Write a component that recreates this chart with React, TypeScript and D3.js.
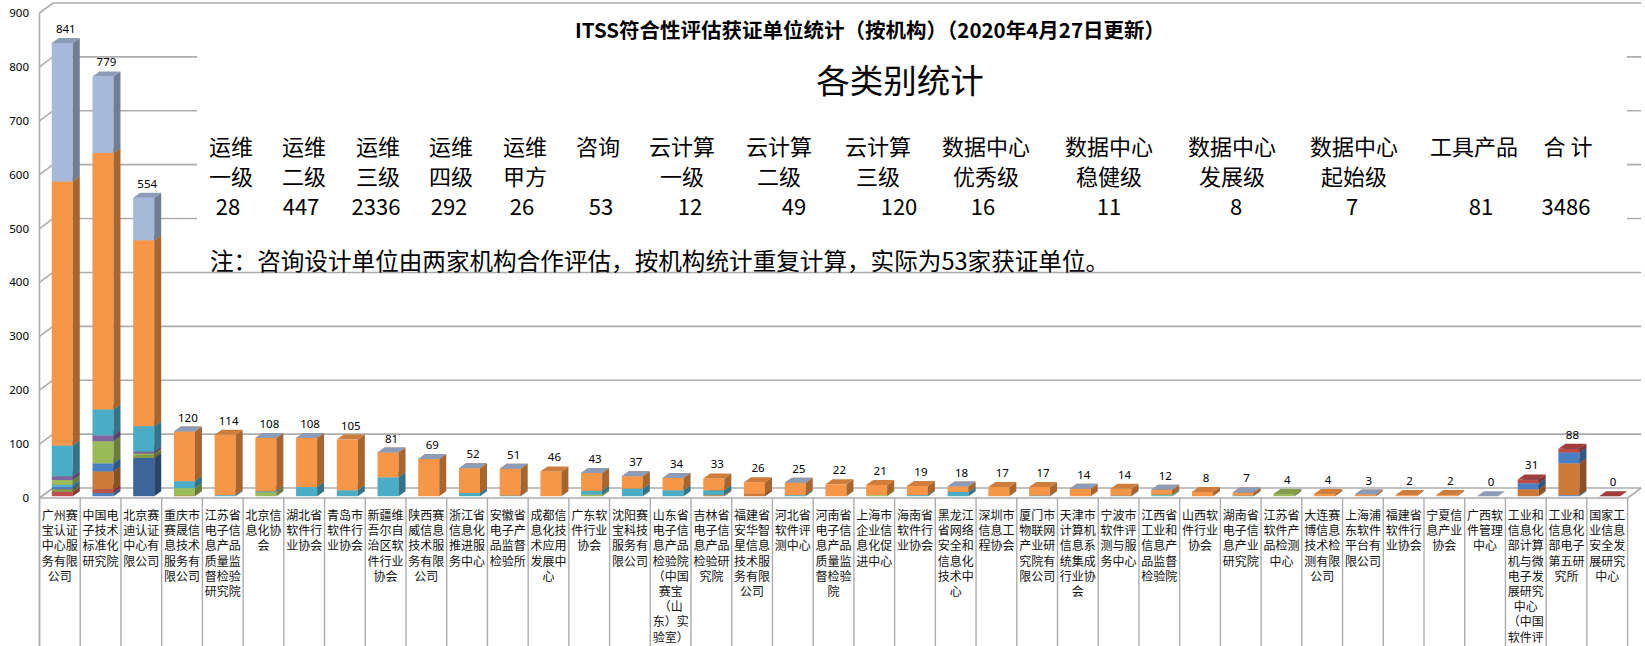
import React, { useEffect } from 'react';
import * as d3 from 'd3';

// ---- data ----
const categories = [
  '广州赛\n宝认证\n中心服\n务有限\n公司',
  '中国电\n子技术\n标准化\n研究院',
  '北京赛\n迪认证\n中心有\n限公司',
  '重庆市\n赛晟信\n息技术\n服务有\n限公司',
  '江苏省\n电子信\n息产品\n质量监\n督检验\n研究院',
  '北京信\n息化协\n会',
  '湖北省\n软件行\n业协会',
  '青岛市\n软件行\n业协会',
  '新疆维\n吾尔自\n治区软\n件行业\n协会',
  '陕西赛\n威信息\n技术服\n务有限\n公司',
  '浙江省\n信息化\n推进服\n务中心',
  '安徽省\n电子产\n品监督\n检验所',
  '成都信\n息化技\n术应用\n发展中\n心',
  '广东软\n件行业\n协会',
  '沈阳赛\n宝科技\n服务有\n限公司',
  '山东省\n电子信\n息产品\n检验院\n（中国\n赛宝\n（山\n东）实\n验室）',
  '吉林省\n电子信\n息产品\n检验研\n究院',
  '福建省\n安华智\n星信息\n技术服\n务有限\n公司',
  '河北省\n软件评\n测中心',
  '河南省\n电子信\n息产品\n质量监\n督检验\n院',
  '上海市\n企业信\n息化促\n进中心',
  '海南省\n软件行\n业协会',
  '黑龙江\n省网络\n安全和\n信息化\n技术中\n心',
  '深圳市\n信息工\n程协会',
  '厦门市\n物联网\n产业研\n究院有\n限公司',
  '天津市\n计算机\n信息系\n统集成\n行业协\n会',
  '宁波市\n软件评\n测与服\n务中心',
  '江西省\n工业和\n信息产\n品监督\n检验院',
  '山西软\n件行业\n协会',
  '湖南省\n电子信\n息产业\n研究院',
  '江苏省\n软件产\n品检测\n中心',
  '大连赛\n博信息\n技术检\n测有限\n公司',
  '上海浦\n东软件\n平台有\n限公司',
  '福建省\n软件行\n业协会',
  '宁夏信\n息产业\n协会',
  '广西软\n件管理\n中心',
  '工业和\n信息化\n部计算\n机与微\n电子发\n展研究\n中心\n（中国\n软件评\n测中心）',
  '工业和\n信息化\n部电子\n第五研\n究所',
  '国家工\n业信息\n安全发\n展研究\n中心',
];

const _ = null; // blank cell (no box drawn)

// stacked series, bottom to top
const sBlue = [_, 6, _, _, _, _, _, _, _, _, _, _, _, _, _, _, _, _, _, _, _, _, _, _, _, _, _, _, _, _, _, _, _, _, _, _, _, 2, _];
const sRed = [8, 7, _, _, _, _, _, _, _, _, _, _, _, _, _, _, _, _, _, _, _, _, _, _, _, _, _, _, _, _, _, _, _, _, _, _, _, _, _];
const sDarkBlue = [_, _, 71, _, _, _, _, _, _, _, _, _, _, _, _, _, _, _, _, _, _, _, _, _, _, _, _, _, _, _, _, _, _, _, _, _, _, _, _];
const sOlive = [5, _, 5, _, _, _, _, _, _, _, _, _, _, _, _, _, _, _, _, _, _, _, _, _, _, _, _, _, _, _, _, _, _, _, _, _, _, _, _];
const sDarkOrange = [_, 33, _, 1, _, _, _, _, _, _, _, _, _, _, _, _, 2, 5, _, _, _, _, _, _, _, _, _, _, _, _, _, _, _, _, _, _, 13, 59, _];
const sBlue2 = [4, 15, _, _, _, _, _, _, _, _, _, _, _, _, _, _, _, _, _, _, _, _, _, _, _, _, _, _, _, _, _, _, _, _, _, _, 11, 20, _];
const sRed2 = [_, _, _, _, _, _, _, _, _, _, _, _, _, _, _, _, _, _, _, _, _, _, _, _, _, _, _, _, _, _, _, _, _, _, _, _, 7, 7, 0];
const sAquaThin = [4, _, _, _, _, _, _, _, _, _, _, _, _, _, _, _, _, _, _, _, _, _, _, _, _, _, _, 2, _, _, _, _, _, _, _, _, _, _, _];
const sGreen = [9, 41, 3, 14, _, 7, _, _, _, _, _, _, _, 3, _, _, _, _, _, _, 2, _, _, _, _, _, _, 1, _, _, 4, _, _, _, _, _, _, _, _];
const sPurple = [7, 11, 4, _, _, _, _, _, _, _, _, _, _, _, _, _, _, _, _, _, _, _, _, _, _, _, _, _, _, _, _, _, _, _, _, _, _, _, _];
const sAqua = [57, 48, 47, 13, 2, 2, 17, 11, 35, _, 6, 1, _, 7, 14, 11, 9, _, 2, _, _, 2, 8, _, 1, _, 1, _, _, 1, _, _, _, _, _, _, _, _, _];
const sOrange = [490, 476, 345, 92, 112, 99, 91, 94, 46, 69, 46, 50, 46, 33, 23, 23, 22, 21, 23, 22, 19, 17, 10, 17, 16, 14, 13, 9, 8, 6, _, 4, 3, 2, 2, _, _, _, _];
const sLightBlue = [257, 142, 79, 0, _, 0, 0, _, 0, 0, 0, 0, _, 0, 0, 0, _, _, 0, _, _, _, 0, _, _, 0, _, 0, _, 0, _, _, 0, _, _, 0, _, _, _];

const series = [
  { key: 'blue', color: '#4F81BD', values: sBlue },
  { key: 'red', color: '#C0504D', values: sRed },
  { key: 'darkBlue', color: '#3C6699', values: sDarkBlue },
  { key: 'olive', color: '#8B9C45', values: sOlive },
  { key: 'darkOrange', color: '#CC7A36', values: sDarkOrange },
  { key: 'blue2', color: '#4A7EC2', values: sBlue2 },
  { key: 'red2', color: '#BE4A45', values: sRed2 },
  { key: 'aquaThin', color: '#58B1CA', values: sAquaThin },
  { key: 'green', color: '#9BBB59', values: sGreen },
  { key: 'purple', color: '#8064A2', values: sPurple },
  { key: 'aqua', color: '#4BACC6', values: sAqua },
  { key: 'orange', color: '#F79646', values: sOrange },
  { key: 'lightBlue', color: '#A7B9DA', values: sLightBlue },
];

const yTicks = [0, 100, 200, 300, 400, 500, 600, 700, 800, 900];

const title = 'ITSS符合性评估获证单位统计（按机构）（2020年4月27日更新）';
const subtitle = '各类别统计';
const summaryHead1 = ['运维', '运维', '运维', '运维', '运维', '咨询', '云计算', '云计算', '云计算', '数据中心', '数据中心', '数据中心', '数据中心', '工具产品', '合 计'];
const summaryHead2 = ['一级', '二级', '三级', '四级', '甲方', '', '一级', '二级', '三级', '优秀级', '稳健级', '发展级', '起始级', '', ''];
const summaryValues = ['28', '447', '2336', '292', '26', '53', '12', '49', '120', '16', '11', '8', '7', '81', '3486'];
const note = '注：咨询设计单位由两家机构合作评估，按机构统计重复计算，实际为53家获证单位。';

// ---- layout ----
const W = 1645;
const H = 646;
const X0 = 39.5;
const X1 = 1627.6;
const WALL_X = 13.5;
const WALL_Y = -10;
const FRONT_X = 2.4;
const FRONT_Y = -1.8;
const DEPTH_X = 7;
const DEPTH_Y = -5;
const GRID = '#ADADAD';
const CJK = '"Noto Sans CJK SC", "Noto Sans", sans-serif';
const NUM = '"Noto Sans", "Liberation Sans", sans-serif';

const headX = [231, 304, 378, 451, 525, 598, 682, 779, 878, 986, 1109, 1232, 1354, 1474, 1568];
const valX = [228, 301, 376, 449, 522, 601, 690, 794, 899, 983, 1109, 1236, 1352, 1481, 1566];

const poly = (pts: [number, number][]) => pts.map(p => p.join(',')).join(' ');

const App = () => {
  useEffect(() => {
    document.body.style.margin = '0';
  }, []);

  const x = d3.scaleBand<number>()
    .domain(categories.map((c, i) => i))
    .range([X0, X1])
    .paddingInner(0.484)
    .paddingOuter(0.242);
  const step = x.step();
  const bw = x.bandwidth();

  const y = d3.scaleLinear().domain([0, 900]).range([498, 13]);

  const stack = d3.stack<number>()
    .keys(series.map(s => s.key))
    .value((i, key) => series.find(s => s.key === key)!.values[i] ?? 0);
  const stacked = stack(categories.map((c, i) => i));

  const boxes: JSX.Element[] = [];
  const labels: JSX.Element[] = [];
  categories.forEach((c, i) => {
    const left = x(i)! + FRONT_X;
    const right = left + bw;
    let topBack = y(0) + FRONT_Y + DEPTH_Y;
    stacked.forEach((layer, si) => {
      const v = series[si].values[i];
      if (v === null || v === undefined) return;
      const [v0, v1] = layer[i];
      const yb = y(v0) + FRONT_Y;
      const yt = y(v1) + FRONT_Y;
      const col = d3.color(series[si].color)!;
      const side = col.darker(1.1).formatHex();
      const top = col.darker(0.5).formatHex();
      boxes.push(
        <g key={`${i}-${si}`}>
          {yb - yt > 0 && <rect x={left} y={yt} width={bw} height={yb - yt} fill={series[si].color} />}
          {yb - yt > 0 && (
            <polygon
              points={poly([[right, yt], [right + DEPTH_X, yt + DEPTH_Y], [right + DEPTH_X, yb + DEPTH_Y], [right, yb]])}
              fill={side}
            />
          )}
          <polygon
            points={poly([[left, yt], [left + DEPTH_X, yt + DEPTH_Y], [right + DEPTH_X, yt + DEPTH_Y], [right, yt]])}
            fill={top}
          />
        </g>
      );
      topBack = yt + DEPTH_Y;
    });
    const total = d3.sum(series, s => s.values[i] ?? 0);
    labels.push(
      <text key={`l${i}`} x={left + bw / 2 + DEPTH_X / 2} y={topBack - 5} textAnchor="middle"
        fontFamily={NUM} fontSize={11.5} fill="#000">{total}</text>
    );
  });

  return (
    <svg width={W} height={H} style={{ display: 'block' }} xmlns="http://www.w3.org/2000/svg">
      <rect width={W} height={H} fill="#fff" />

      {/* back wall gridlines and side wall */}
      {yTicks.map(t => (
        <g key={`g${t}`} stroke={GRID} strokeWidth={1.6}>
          <line x1={X0 + WALL_X} x2={X1 + WALL_X} y1={y(t) + WALL_Y} y2={y(t) + WALL_Y} />
          <line x1={X0} x2={X0 + WALL_X} y1={y(t)} y2={y(t) + WALL_Y} />
        </g>
      ))}
      <line x1={X0} x2={X0} y1={y(900)} y2={H} stroke={GRID} strokeWidth={1.6} />
      <line x1={X0} x2={X1} y1={y(0)} y2={y(0)} stroke={GRID} strokeWidth={1.6} />
      <line x1={X1} x2={X1 + WALL_X} y1={y(0)} y2={y(0) + WALL_Y} stroke={GRID} strokeWidth={1.6} />

      {/* category cells */}
      {d3.range(categories.length + 1).map(k => (
        <line key={`s${k}`} x1={X0 + k * step} x2={X0 + k * step} y1={y(0)} y2={H} stroke={GRID} strokeWidth={1.4} />
      ))}

      {/* text box over the chart */}
      <rect x={197} y={5} width={1430} height={263} fill="#fff" />
      <text x={870} y={38} textAnchor="middle" fontFamily={CJK} fontWeight="bold" fontSize={20.5} fill="#000">{title}</text>
      <text x={900} y={93} textAnchor="middle" fontFamily={CJK} fontSize={33.5} fill="#000">{subtitle}</text>
      {summaryHead1.map((h, k) => (
        <text key={`h1${k}`} x={headX[k]} y={155} textAnchor="middle" fontFamily={CJK} fontSize={22} fill="#000">{h}</text>
      ))}
      {summaryHead2.map((h, k) => (
        <text key={`h2${k}`} x={headX[k]} y={185} textAnchor="middle" fontFamily={CJK} fontSize={22} fill="#000">{h}</text>
      ))}
      {summaryValues.map((v, k) => (
        <text key={`v${k}`} x={valX[k]} y={215} textAnchor="middle" fontFamily={CJK} fontSize={22} fill="#000">{v}</text>
      ))}
      <text x={210} y={270} fontFamily={CJK} fontSize={23.6} fill="#000">{note}</text>

      {/* bars */}
      {boxes}
      {labels}

      {/* category labels */}
      {categories.map((c, i) => (
        <text key={`c${i}`} x={X0 + (i + 0.5) * step} y={520} textAnchor="middle" fontFamily={CJK} fontSize={12} fill="#111">
          {c.split('\n').map((line, j) => (
            <tspan key={j} x={X0 + (i + 0.5) * step} dy={j === 0 ? 0 : 15.2}>{line}</tspan>
          ))}
        </text>
      ))}

      {/* y axis labels */}
      <g fontFamily={NUM} fontSize={11.5} fill="#000" textAnchor="end">
        {yTicks.map(t => (
          <text key={`t${t}`} x={29} y={y(t) + 4}>{t}</text>
        ))}
      </g>
    </svg>
  );
};

export default App;
